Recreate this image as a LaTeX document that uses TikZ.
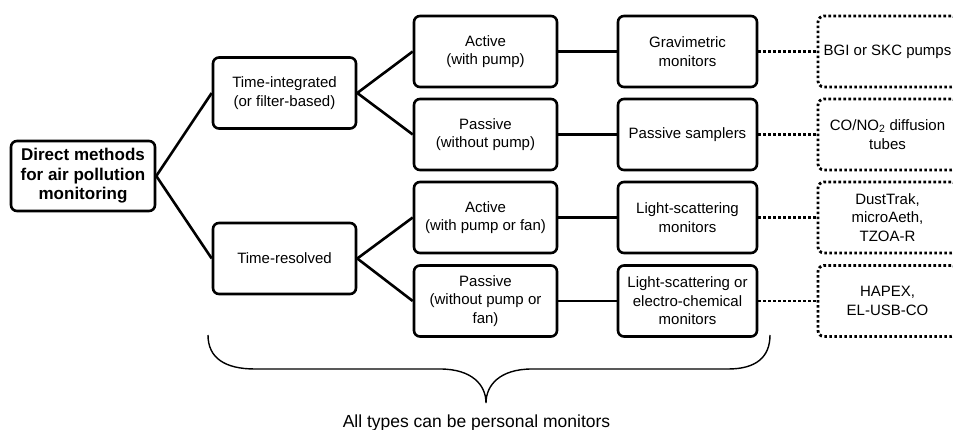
\documentclass[tikz,border=0pt]{standalone}
\usepackage{fontspec}
\setmainfont{Liberation Sans}
\begin{document}
\begin{tikzpicture}[x=1pt,y=-1pt,
  box/.style={draw, line width=2.6pt, rounded corners=6pt, minimum width=143pt, minimum height=71pt,
    align=center, font=\fontsize{15}{18.5}\selectfont, inner sep=1pt},
  rootbox/.style={box, minimum width=144pt, minimum height=70pt, font=\fontsize{17}{19.5}\selectfont\bfseries},
  dbox/.style={box, minimum width=139pt, dash pattern=on 2.6pt off 2.4pt, line width=2.8pt},
  conn/.style={line width=2.6pt},
  dconn/.style={line width=2.8pt, dash pattern=on 2.6pt off 2.4pt},
  brace/.style={line width=1.4pt}]
\useasboundingbox (0,0) rectangle (953,430);

\node[rootbox] (root) at (83,176) {Direct methods\\for air pollution\\monitoring};

\node[box] (ti) at (284.5,93) {Time-integrated\\(or filter-based)};
\node[box] (tr) at (284.5,258.5) {Time-resolved};

\node[box] (a1) at (485.5,51.5) {Active\\(with pump)};
\node[box] (p1) at (485.5,134.5) {Passive\\(without pump)};
\node[box] (a2) at (485.5,217.5) {Active\\(with pump or fan)};
\node[box] (p2) at (485.5,301) {Passive\\(without pump or\\fan)};

\node[box, minimum width=139pt] (g1) at (687.5,51.5) {Gravimetric\\monitors};
\node[box, minimum width=139pt] (g2) at (687.5,134.5) {Passive samplers};
\node[box, minimum width=139pt] (g3) at (687.5,217.5) {Light-scattering\\monitors};
\node[box, minimum width=139pt] (g4) at (687.5,301) {Light-scattering or\\electro-chemical\\monitors};

\node[dbox] (e1) at (887.5,51.5) {BGI or SKC pumps};
\node[dbox] (e2) at (887.5,134.5) {CO/NO\textsubscript{2} diffusion\\tubes};
\node[dbox] (e3) at (887.5,217.5) {DustTrak,\\microAeth,\\TZOA-R};
\node[dbox] (e4) at (887.5,301) {HAPEX,\\EL-USB-CO};

\draw[conn] (root.east) -- (ti.west);
\draw[conn] (root.east) -- (tr.west);
\draw[conn] (ti.east) -- (a1.west);
\draw[conn] (ti.east) -- (p1.west);
\draw[conn] (tr.east) -- (a2.west);
\draw[conn] (tr.east) -- (p2.west);
\draw[conn] (a1.east) -- (g1.west);
\draw[conn] (p1.east) -- (g2.west);
\draw[conn] (a2.east) -- (g3.west);
\draw[conn] (p2.east) -- (g4.west);
\draw[dconn] (g1.east) -- (e1.west);
\draw[dconn] (g2.east) -- (e2.west);
\draw[dconn] (g3.east) -- (e3.west);
\draw[dconn] (g4.east) -- (e4.west);

\coordinate (bl) at (208,335);
\coordinate (bt) at (486,403);
\coordinate (br) at (770,335);
\draw[brace] (bl) .. controls (208,358) and (225,369) .. (255,369) -- (440,369)
  .. controls (472,369) and (486,385) .. (bt)
  .. controls (486,385) and (500,369) .. (532,369) -- (728,369)
  .. controls (755,369) and (770,358) .. (br);

\node[anchor=base, font=\fontsize{17.5}{20}\selectfont] (all) at (476.5,427.5) {All types can be personal monitors};
\end{tikzpicture}
\end{document}
